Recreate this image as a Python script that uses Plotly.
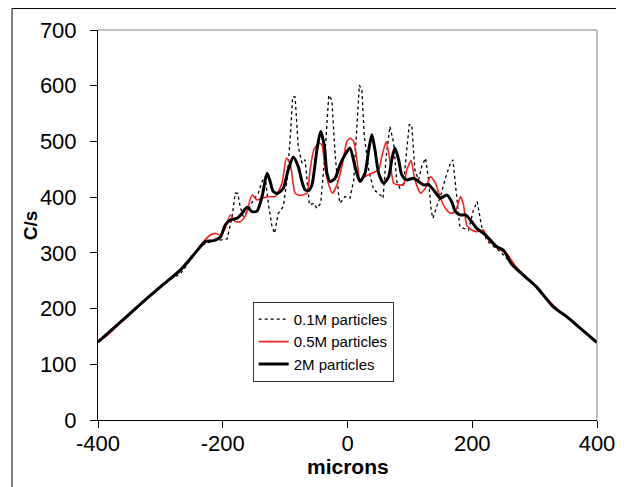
import plotly.graph_objects as go

# ---------------- data ----------------
x_01m = [-400,-385,-370,-355,-340,-325,-310,-295,-280,-268,-255,-245,-236,-225,-215,-204,-193,-185,-180,-176,-172,-167,-159,-151,-143,-137,-132,-127,-121,-117,-111,-103,-97,-92,-88,-84,-79,-73,-68,-61,-54,-49,-43,-36,-30,-25,-20,-14,-12,-4,4,10,15,19,23,27,34,42,50,57,62,68,74,79,84,90,95,99,103,108,114,119,125,130,134,137,143,149,157,165,169,174,180,186,194,202,208,215,223,235,245,260,275,290,305,320,335,350,365,380,400]
y_01m = [140,153,170,184,198,216,228,243,255,262,283,298,312,318,322,323,325,365,407,407,383,365,377,395,407,428,437,389,347,335,371,383,431,503,580,580,491,461,467,386,389,380,389,479,583,574,479,401,389,401,398,431,539,601,592,509,449,413,407,398,473,527,497,428,416,425,485,530,530,449,431,455,470,431,377,362,383,401,434,461,467,407,347,344,341,377,392,347,323,311,302,284,266,252,236,216,198,187,172,158,139]

x_05m = [-400,-385,-370,-355,-340,-325,-310,-295,-280,-265,-250,-236,-220,-212,-204,-196,-188,-180,-172,-164,-153,-145,-137,-127,-116,-105,-98,-92,-84,-76,-65,-60,-54,-46,-41,-36,-30,-24,-17,-9,-1,4,10,15,20,28,39,50,55,62,67,74,82,90,95,102,108,117,125,133,141,149,157,165,173,181,186,191,199,207,218,226,245,255,270,285,300,315,330,345,360,375,390,400]
y_05m = [141,152,168,183,199,214,229,245,258,272,291,313,332,335,332,344,368,356,356,365,404,395,398,401,401,425,470,461,407,403,407,449,485,497,494,452,422,407,422,455,500,506,500,467,431,437,443,449,473,500,473,425,422,422,449,466,431,407,416,437,425,398,380,371,374,401,386,350,341,338,341,323,305,299,275,258,243,224,206,190,176,162,149,139]

x_2m = [-400,-375,-340,-300,-268,-247,-236,-228,-215,-204,-196,-188,-177,-169,-161,-153,-145,-137,-129,-124,-119,-112,-103,-95,-87,-79,-73,-68,-62,-57,-49,-43,-37,-33,-28,-20,-12,-4,4,12,20,28,34,39,44,50,58,66,71,76,82,87,95,106,114,122,130,138,149,159,167,173,181,189,197,207,218,229,239,250,263,285,303,330,352,373,400]
y_2m = [140,165,200,239,269,296,311,320,322,328,350,359,362,371,382,374,375,401,443,428,410,407,416,449,472,455,428,413,412,422,485,518,491,443,428,434,458,476,488,455,428,443,485,512,485,443,425,437,467,488,467,440,431,434,428,422,422,413,398,404,392,374,368,368,359,344,335,323,311,305,280,257,239,203,185,165,139]

names = ["0.1M particles", "0.5M particles", "2M particles"]
x_ticks = [-400, -200, 0, 200, 400]
x_ticktext = ["-400", "-200", "0", "200", "400"]
y_ticks = [0, 100, 200, 300, 400, 500, 600, 700]
x_title = "microns"
y_title = "C/s"

FONT = "Arial, Liberation Sans, sans-serif"

fig = go.Figure()
fig.add_trace(go.Scatter(x=x_01m, y=y_01m, mode="lines", name=names[0],
                         line=dict(color="black", width=1.3, dash="dot")))
fig.add_trace(go.Scatter(x=x_05m, y=y_05m, mode="lines", name=names[1],
                         line=dict(color="#ff2020", width=1.6, shape="spline", smoothing=0.5)))
fig.add_trace(go.Scatter(x=x_2m, y=y_2m, mode="lines", name=names[2],
                         line=dict(color="black", width=3, shape="spline", smoothing=0.7)))

# page body has an 8px margin, so the figure is sized/offset to compensate
fig.update_layout(
    width=616, height=479,
    margin=dict(l=90, r=27, t=22, b=67, autoexpand=False),
    paper_bgcolor="white", plot_bgcolor="white",
    font=dict(family=FONT, color="black", size=22),
    showlegend=True,
    legend=dict(x=0.31, y=0.303, xanchor="left", yanchor="top",
                bgcolor="white", bordercolor="#333333", borderwidth=1,
                font=dict(family=FONT, size=15, color="black"),
                traceorder="normal"),
    xaxis=dict(range=[-400, 400], tickvals=x_ticks, ticktext=x_ticktext,
               ticks="outside", ticklen=7, automargin=False,
               tickcolor="black", showline=True, linecolor="black", linewidth=1,
               showgrid=False, zeroline=False, ticklabelstandoff=-3,
               tickfont=dict(family=FONT, size=22)),
    yaxis=dict(range=[0, 700], tickvals=y_ticks, ticks="outside", ticklen=7,
               automargin=False,
               tickcolor="black", showline=True, linecolor="black", linewidth=1,
               showgrid=False, zeroline=False,
               tickfont=dict(family=FONT, size=22), ticklabelstandoff=9),
)

fig.add_annotation(text=x_title, xref="paper", yref="paper", x=0.5, y=-0.118,
                   xanchor="center", yanchor="middle", showarrow=False,
                   font=dict(family=FONT, size=21, weight="bold", color="black"))
fig.add_annotation(text=y_title, xref="paper", yref="paper", x=-0.136, y=0.5,
                   xanchor="center", yanchor="middle", showarrow=False, textangle=-90,
                   font=dict(family=FONT, size=19, weight="bold", color="black"))

# plot area top/right gray border
fig.add_shape(type="line", xref="paper", yref="paper", x0=0, x1=1, y0=1, y1=1,
              line=dict(color="#808080", width=1))
fig.add_shape(type="line", xref="paper", yref="paper", x0=1, x1=1, y0=0, y1=1,
              line=dict(color="#808080", width=1))
# outer chart frame
fig.add_shape(type="rect", xref="paper", yref="paper",
              x0=-0.1723, x1=1.048, y0=-0.2, y1=1.055,
              line=dict(color="black", width=1), fillcolor="rgba(0,0,0,0)", layer="below")

fig.write_html("out.html")
